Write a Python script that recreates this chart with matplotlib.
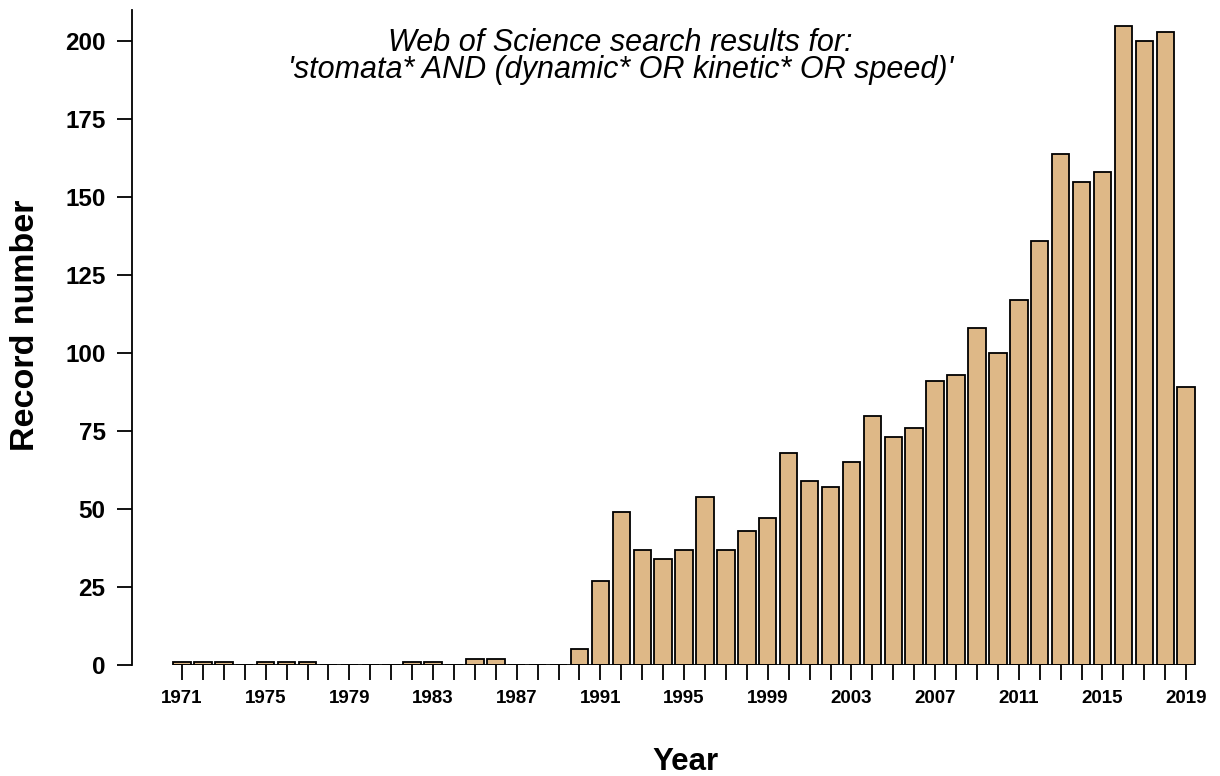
import matplotlib.pyplot as plt
import numpy as np

# Web of Science records per year
years = list(range(1971, 2020))
records = [1, 1, 1, 0, 1, 1, 1, 0, 0, 0,
           0, 1, 1, 0, 2, 2, 0, 0, 0, 5,
           27, 49, 37, 34, 37, 54, 37, 43, 47, 68,
           59, 57, 65, 80, 73, 76, 91, 93, 108, 100,
           117, 136, 164, 155, 158, 205, 200, 203, 89]
label_years = [y for y in years if (y - 1971) % 4 == 0]
y_ticks = [0, 25, 50, 75, 100, 125, 150, 175, 200]

plt.rcParams['font.family'] = ['Liberation Sans', 'DejaVu Sans']

fig = plt.figure(figsize=(12.2, 7.76), dpi=100)
ax = fig.add_axes([0.1082, 0.143, 0.8795, 0.844])

ax.bar(years, records, width=0.833, color='#DEB887', edgecolor='black', linewidth=1.3)
# baseline under the bars (zero-height bars show as a flat line)
ax.hlines(0, years[0] - 0.42, years[-1] + 0.42, color='black', linewidth=1.3)

ax.set_xlim(1968.61, 2019.9)
ax.set_ylim(0, 210)

for s in ['top', 'right', 'bottom']:
    ax.spines[s].set_visible(False)
ax.spines['left'].set_linewidth(1.3)

ax.set_yticks(y_ticks)
ax.set_yticklabels([str(v) for v in y_ticks], fontsize=17.5, fontweight='bold')
ax.tick_params(axis='y', length=11, width=1.3, pad=8)

ax.set_xticks(years)
ax.set_xticklabels([str(y) if y in label_years else '' for y in years],
                   fontsize=13.5, fontweight='bold')
ax.tick_params(axis='x', length=11, width=1.3, pad=7)

ax.set_ylabel('Record number', fontsize=24.5, fontweight='bold', va='center')
ax.yaxis.set_label_coords(-0.0988, 0.519)
ax.set_xlabel('Year', fontsize=22.5, fontweight='bold', va='center')
ax.xaxis.set_label_coords(0.516, -0.148)

ax.text(0.455, 0.973, "Web of Science search results for:\n'stomata* AND (dynamic* OR kinetic* OR speed)'",
        transform=ax.transAxes, ha='center', va='top', fontsize=22, style='italic',
        linespacing=0.88)

fig.savefig('out.png', dpi=100)
